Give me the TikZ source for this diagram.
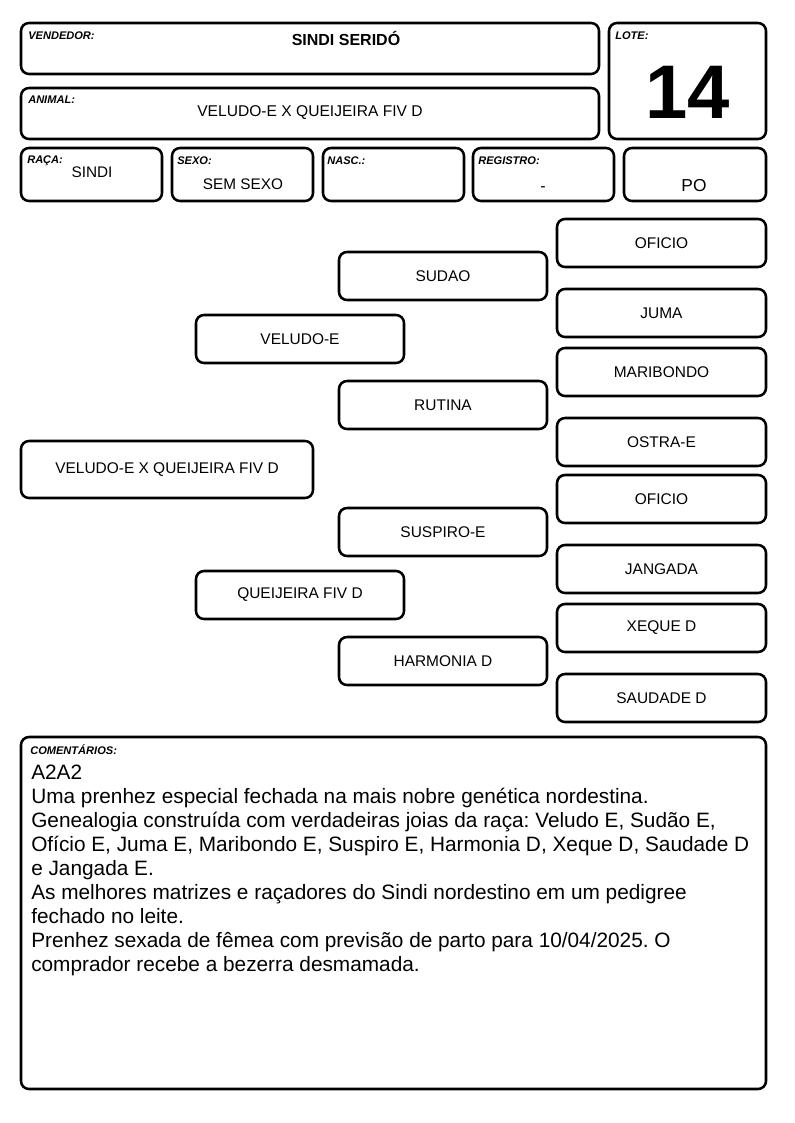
\documentclass[tikz,border=0pt]{standalone}
\usepackage{fontspec}
\setmainfont{Liberation Sans}
\frenchspacing
\begin{document}
\begin{tikzpicture}[x=0.75pt,y=-0.75pt,
  box/.style={draw=black, line width=1.9pt, rounded corners=6pt, inner sep=0pt, fill=white},
  lab/.style={font=\fontsize{8.3pt}{9pt}\selectfont\bfseries\itshape, inner sep=0pt, anchor=north west},
  val/.style={font=\fontsize{11.5pt}{13pt}\selectfont, inner sep=0pt},
  ped/.style={font=\fontsize{11.6pt}{13pt}\selectfont, inner sep=0pt}]
\useasboundingbox (0,0) rectangle (794,1123);
\newcommand\mybox[6]{\node[box, minimum width={(#4-#2)*0.75pt}, minimum height={(#5-#3)*0.75pt}] (#1) at ({(#2+#4)/2},{(#3+#5)/2}) {};\node[ped] (#1t) at (#1) {#6};}
\newcommand\headbox[5]{\node[box, minimum width={(#4-#2)*0.75pt}, minimum height={(#5-#3)*0.75pt}] (#1) at ({(#2+#4)/2},{(#3+#5)/2}) {};}
% header
\headbox{vend}{21}{23}{599}{74}
\node[lab] (vendl) at (28,31.5) {VENDEDOR:};
\node[val, font=\fontsize{12pt}{13pt}\selectfont\bfseries] (vendv) at (346,38) {SINDI SERIDÓ};
\headbox{lote}{609}{23}{766}{139}
\node[lab] (lotel) at (615,31.5) {LOTE:};
\node[inner sep=0pt, font=\fontsize{57pt}{60pt}\selectfont\bfseries] (lotev) at (688,92) {14};
\headbox{anim}{21}{88}{599}{139}
\node[lab] (animl) at (28,95.5) {ANIMAL:};
\node[val, font=\fontsize{11.7pt}{13pt}\selectfont] (animv) at (310,113) {VELUDO-E X QUEIJEIRA FIV D};
\headbox{raca}{21}{148}{162}{201}
\node[lab] (racal) at (27,156) {RAÇA:};
\node[val] (racav) at (92,172) {SINDI};
\headbox{sexo}{172}{148}{313}{201}
\node[lab] (sexol) at (177,156.5) {SEXO:};
\node[val] (sexov) at (243,184) {SEM SEXO};
\headbox{nasc}{323}{148}{464}{201}
\node[lab] (nascl) at (327,156.5) {NASC.:};
\headbox{reg}{473}{148}{614}{201}
\node[lab] (regl) at (478,156.5) {REGISTRO:};
\node[val, font=\fontsize{12pt}{13pt}\selectfont] (regv) at (543,189) {-};
\headbox{po}{624}{148}{766}{201}
\node[val, font=\fontsize{13pt}{14pt}\selectfont] (pov) at (694,186) {PO};
% pedigree
\mybox{main}{21}{441}{313}{498}{VELUDO-E X QUEIJEIRA FIV D}
\mybox{pai}{196}{315}{404}{363}{VELUDO-E}
\mybox{mae}{196}{571}{404}{619}{QUEIJEIRA FIV D}
\mybox{pp}{339}{252}{547}{300}{SUDAO}
\mybox{pm}{339}{381}{547}{429}{RUTINA}
\mybox{mp}{339}{508}{547}{556}{SUSPIRO-E}
\mybox{mm}{339}{637}{547}{685}{HARMONIA D}
\mybox{ppp}{557}{219}{766}{267}{OFICIO}
\mybox{ppm}{557}{289}{766}{337}{JUMA}
\mybox{pmp}{557}{348}{766}{396}{MARIBONDO}
\mybox{pmm}{557}{418}{766}{466}{OSTRA-E}
\mybox{mpp}{557}{475}{766}{523}{OFICIO}
\mybox{mpm}{557}{545}{766}{593}{JANGADA}
\mybox{mmp}{557}{604}{766}{652}{XEQUE D}
\mybox{mmm}{557}{674}{766}{722}{SAUDADE D}
% comments
\headbox{com}{21}{737}{766}{1089}
\node[lab] (coml) at (30,744) {COMENTÁRIOS:};
\node[inner sep=0pt, anchor=north west, align=left, font=\fontsize{15.6pt}{18pt}\selectfont] (comv) at (31,765) {A2A2\\
Uma prenhez especial fechada na mais nobre genética nordestina.\\
Genealogia construída com verdadeiras joias da raça: Veludo E, Sudão E,\\
Ofício E, Juma E, Maribondo E, Suspiro E, Harmonia D, Xeque D, Saudade D\\
e Jangada E.\\
As melhores matrizes e raçadores do Sindi nordestino em um pedigree\\
fechado no leite.\\
Prenhez sexada de fêmea com previsão de parto para 10/04/2025. O\\
comprador recebe a bezerra desmamada.};
\end{tikzpicture}
\end{document}
